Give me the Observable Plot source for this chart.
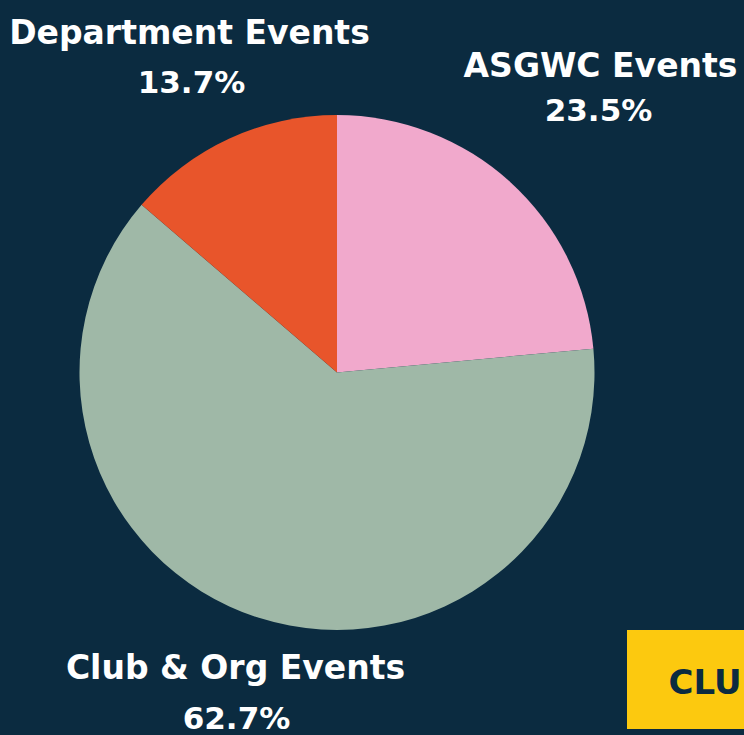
<!DOCTYPE html>
<html>
<head>
<meta charset="utf-8">
<script src="https://cdn.jsdelivr.net/npm/d3@7"></script>
<script src="https://cdn.jsdelivr.net/npm/@observablehq/plot@0.6"></script>
<style>
  html, body { margin: 0; padding: 0; background: #0b2b40; }
  #chart svg { display: block; }
</style>
</head>
<body>
<div id="chart"></div>
<script>
// ---- data ----
const categories = ["ASGWC Events", "Club & Org Events", "Department Events"];
const shares = [23.5, 62.7, 13.7];
const shareLabels = ["23.5%", "62.7%", "13.7%"];
const colors = ["#f1a9cc", "#9fb8a7", "#e8552b"];
const badgeText = ["CLUB & ORG"];

// ---- layout (in units of the pie radius, pie centre at 0,0) ----
const W = 744, H = 735;
const cx = 337, cy = 372.5, R = 257.5;
const xDomain = [-cx / R, (W - cx) / R];
const yDomain = [-(H - cy) / R, cy / R];
const px = v => (v - cx) / R;
const py = v => (cy - v) / R;
const nameX = [600, 235, 189].map(px);
const nameY = [76, 678, 43].map(py);
const pctX = [598, 236, 191].map(px);
const pctY = [120, 728, 92].map(py);
const badge = {x1: px(627), x2: px(760), y1: py(729), y2: py(630), tx: px(668), ty: py(693)};

const table = categories.map((c, i) => ({
  category: c, share: shares[i], pct: shareLabels[i], color: colors[i],
  nx: nameX[i], ny: nameY[i], qx: pctX[i], qy: pctY[i]
}));

const pie = d3.pie().value(d => d.share).sort(null)(table);

function pieMark(index, scales) {
  const {x, y} = scales;
  const r = x(1) - x(0);
  const arc = d3.arc().innerRadius(0).outerRadius(r);
  const g = d3.create("svg:g").attr("transform", `translate(${x(0)},${y(0)})`);
  g.selectAll("path").data(pie).join("path")
    .attr("d", arc)
    .attr("fill", d => d.data.color);
  return g.node();
}

const textStyle = {
  fill: "white",
  fontSize: 33,
  fontWeight: "bold",
  fontFamily: "DejaVu Sans",
  lineAnchor: "bottom",
  textAnchor: "middle"
};

const chart = Plot.plot({
  width: W,
  height: H,
  margin: 0,
  x: {domain: xDomain, axis: null},
  y: {domain: yDomain, axis: null},
  style: {background: "#0b2b40", overflow: "hidden"},
  marks: [
    pieMark,
    Plot.text(table, {x: "nx", y: "ny", text: "category", ...textStyle}),
    Plot.text(table, {x: "qx", y: "qy", text: "pct", ...textStyle, fontSize: 31}),
    Plot.rect([badge], {x1: "x1", x2: "x2", y1: "y1", y2: "y2", fill: "#fcc90f"}),
    Plot.text([badge], {
      x: "tx", y: "ty", text: () => badgeText[0],
      fill: "#0b2b40", fontSize: 34, fontWeight: "bold", fontFamily: "DejaVu Sans",
      textAnchor: "start", lineAnchor: "bottom"
    })
  ]
});
document.getElementById("chart").append(chart);
</script>
</body>
</html>
